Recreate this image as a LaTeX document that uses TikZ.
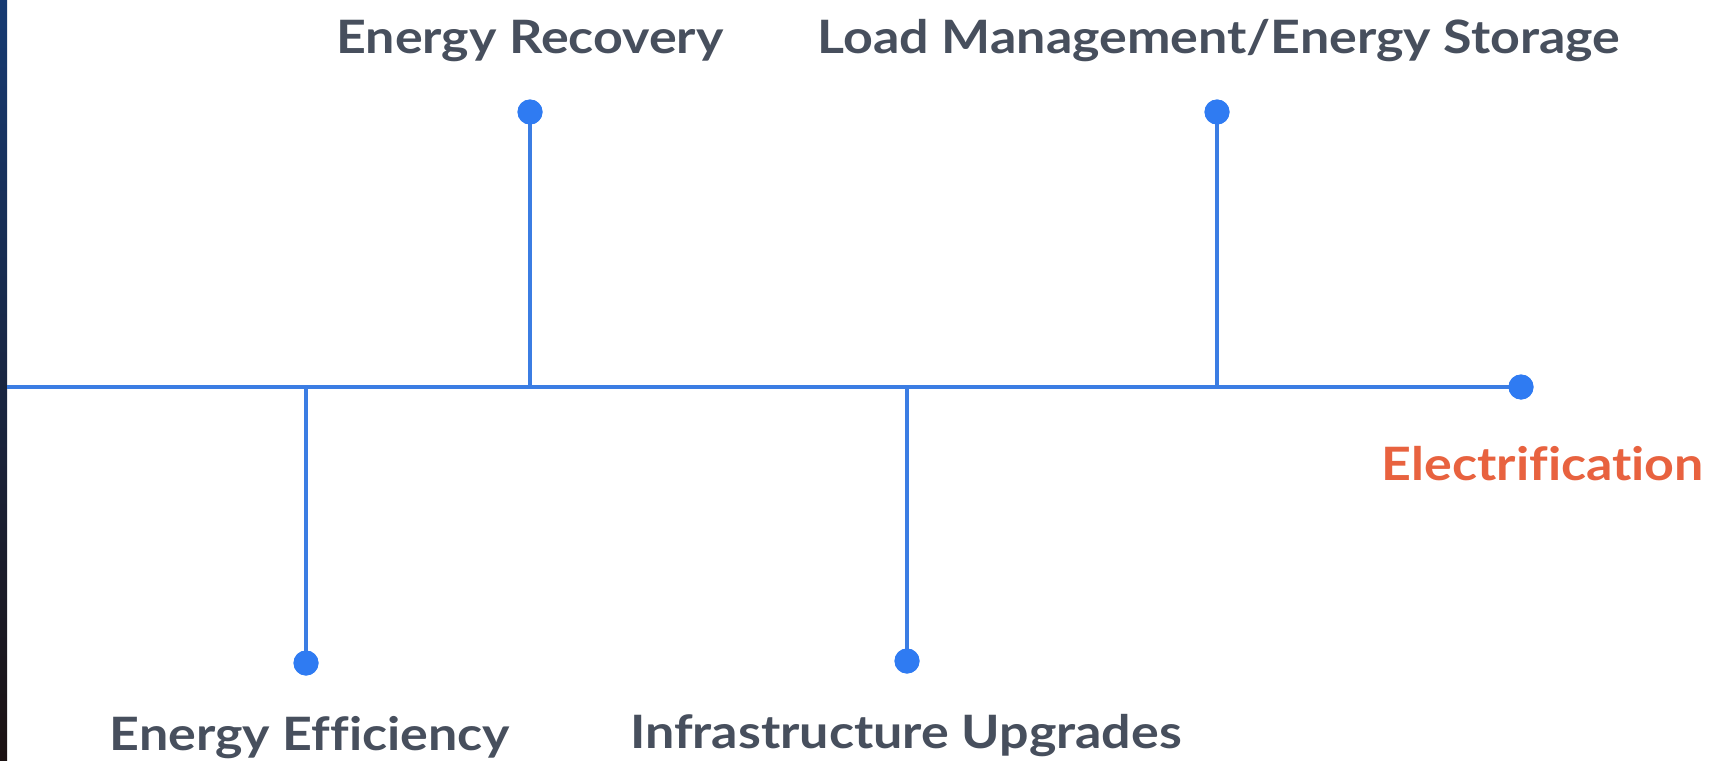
\documentclass[tikz,border=0pt]{standalone}
\usepackage{fontspec}
\setmainfont{Lato}[FakeStretch=1.13, Ligatures=NoCommon]
\usetikzlibrary{positioning}
\definecolor{lineblue}{HTML}{3B7DE3}
\definecolor{dotblue}{HTML}{2F7BF2}
\definecolor{textgray}{HTML}{474F5D}
\definecolor{accent}{HTML}{E8623F}
\definecolor{edgetop}{HTML}{163A72}
\definecolor{edgemid}{HTML}{6A4A48}
\definecolor{edgebot}{HTML}{1C1212}

\begin{document}
\begin{tikzpicture}[x=0.5pt,y=-0.5pt,
    dot/.style={circle, fill=dotblue, inner sep=0pt, minimum size=12.5pt},
    branch/.style={draw=lineblue, line width=2pt},
    lbl/.style={anchor=base, inner sep=0pt, text=textgray, font=\fontsize{23}{27}\selectfont\bfseries}
  ]
    \useasboundingbox[fill=white] (0,0) rectangle (1733,760);
    % photo edge on the left
    \shade[top color=edgetop, middle color=edgemid, bottom color=edgebot] (0,0) rectangle (7,760);

    % main line and its junctions
    \coordinate (start) at (7,387);
    \node[dot] (end) at (1521,387) {};
    \coordinate (j1) at (306,387);
    \coordinate (j2) at (530,387);
    \coordinate (j3) at (907,387);
    \coordinate (j4) at (1217,387);

    \node[dot] (d1) at (306,663) {};
    \node[dot] (d2) at (530,112) {};
    \node[dot] (d3) at (907,661) {};
    \node[dot] (d4) at (1217,112) {};

    \node[lbl] (eff) at (310,750) {Energy Efficiency};
    \node[lbl] (rec) at (530,53) {Energy Recovery};
    \node[lbl] (inf) at (906,748) {Infrastructure Upgrades};
    \node[lbl] (load) at (1219,53) {Load Management/Energy Storage};
    \node[lbl, text=accent] (elec) at (1543,480) {Electrification};

    \draw[branch] (start) -- (end.center);
    \draw[branch] (j1) -- (d1.center);
    \draw[branch] (j2) -- (d2.center);
    \draw[branch] (j3) -- (d3.center);
    \draw[branch] (j4) -- (d4.center);
    \node[dot] at (end) {};
    \node[dot] at (d1) {};
    \node[dot] at (d2) {};
    \node[dot] at (d3) {};
    \node[dot] at (d4) {};
\end{tikzpicture}
\end{document}
